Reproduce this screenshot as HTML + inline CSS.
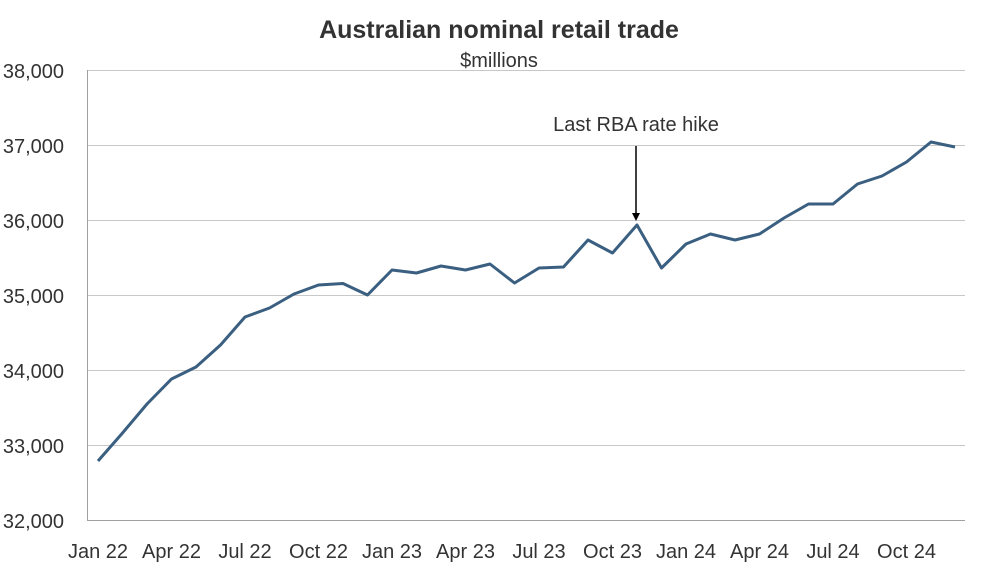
<!DOCTYPE html>
<html><head><meta charset="utf-8"><style>
body{margin:0;background:#fff;}
svg{display:block;font-family:"Liberation Sans",sans-serif;}
</style></head><body>
<svg width="998" height="579" xmlns="http://www.w3.org/2000/svg">
<rect width="998" height="579" fill="#fff"/>
<text x="499" y="38" text-anchor="middle" font-size="25" font-weight="bold" fill="#333">Australian nominal retail trade</text>
<text x="499" y="67" text-anchor="middle" font-size="20" fill="#333">$millions</text>
<g stroke="#c8c8c8" stroke-width="1">
<line x1="87" y1="70.5" x2="965" y2="70.5"/>
<line x1="87" y1="145.5" x2="965" y2="145.5"/>
<line x1="87" y1="220.5" x2="965" y2="220.5"/>
<line x1="87" y1="295.5" x2="965" y2="295.5"/>
<line x1="87" y1="370.5" x2="965" y2="370.5"/>
<line x1="87" y1="445.5" x2="965" y2="445.5"/>
</g>
<line x1="87" y1="520.5" x2="965" y2="520.5" stroke="#a0a0a0"/>
<line x1="87.5" y1="70" x2="87.5" y2="520" stroke="#a0a0a0"/>
<g font-size="20" fill="#333" text-anchor="end">
<text x="64" y="78">38,000</text>
<text x="64" y="153">37,000</text>
<text x="64" y="228">36,000</text>
<text x="64" y="303">35,000</text>
<text x="64" y="378">34,000</text>
<text x="64" y="453">33,000</text>
<text x="64" y="528">32,000</text>
</g>
<g font-size="20" fill="#333" text-anchor="middle">
<text x="98" y="558">Jan 22</text>
<text x="171.5" y="558">Apr 22</text>
<text x="245" y="558">Jul 22</text>
<text x="318.5" y="558">Oct 22</text>
<text x="392" y="558">Jan 23</text>
<text x="465.5" y="558">Apr 23</text>
<text x="539" y="558">Jul 23</text>
<text x="612.5" y="558">Oct 23</text>
<text x="686" y="558">Jan 24</text>
<text x="759.5" y="558">Apr 24</text>
<text x="833" y="558">Jul 24</text>
<text x="906.5" y="558">Oct 24</text>
</g>
<polyline fill="none" stroke="#3a5f80" stroke-width="3" stroke-linejoin="round" points="
98,461 122.5,433 147,404 171.5,379 196,367 220.5,345 245,317 269.5,308 294,294 318.5,285 343,283.5 367.5,295 392,270 416.5,273 441,266 465.5,270 490,264 514.5,283 539,268 563.5,267 588,240 612.5,253 637,225 661.5,268 686,244 710.5,234 735,240 759.5,234 784,218 808.5,204 833,204 857.5,184 882,176 906.5,162 931,142 955,147"/>
<text x="636" y="131" text-anchor="middle" font-size="20" fill="#333">Last RBA rate hike</text>
<line x1="636" y1="146" x2="636" y2="214" stroke="#000" stroke-width="1.5"/>
<polygon points="632,213 640,213 636,221" fill="#000"/>
</svg>
</body></html>
